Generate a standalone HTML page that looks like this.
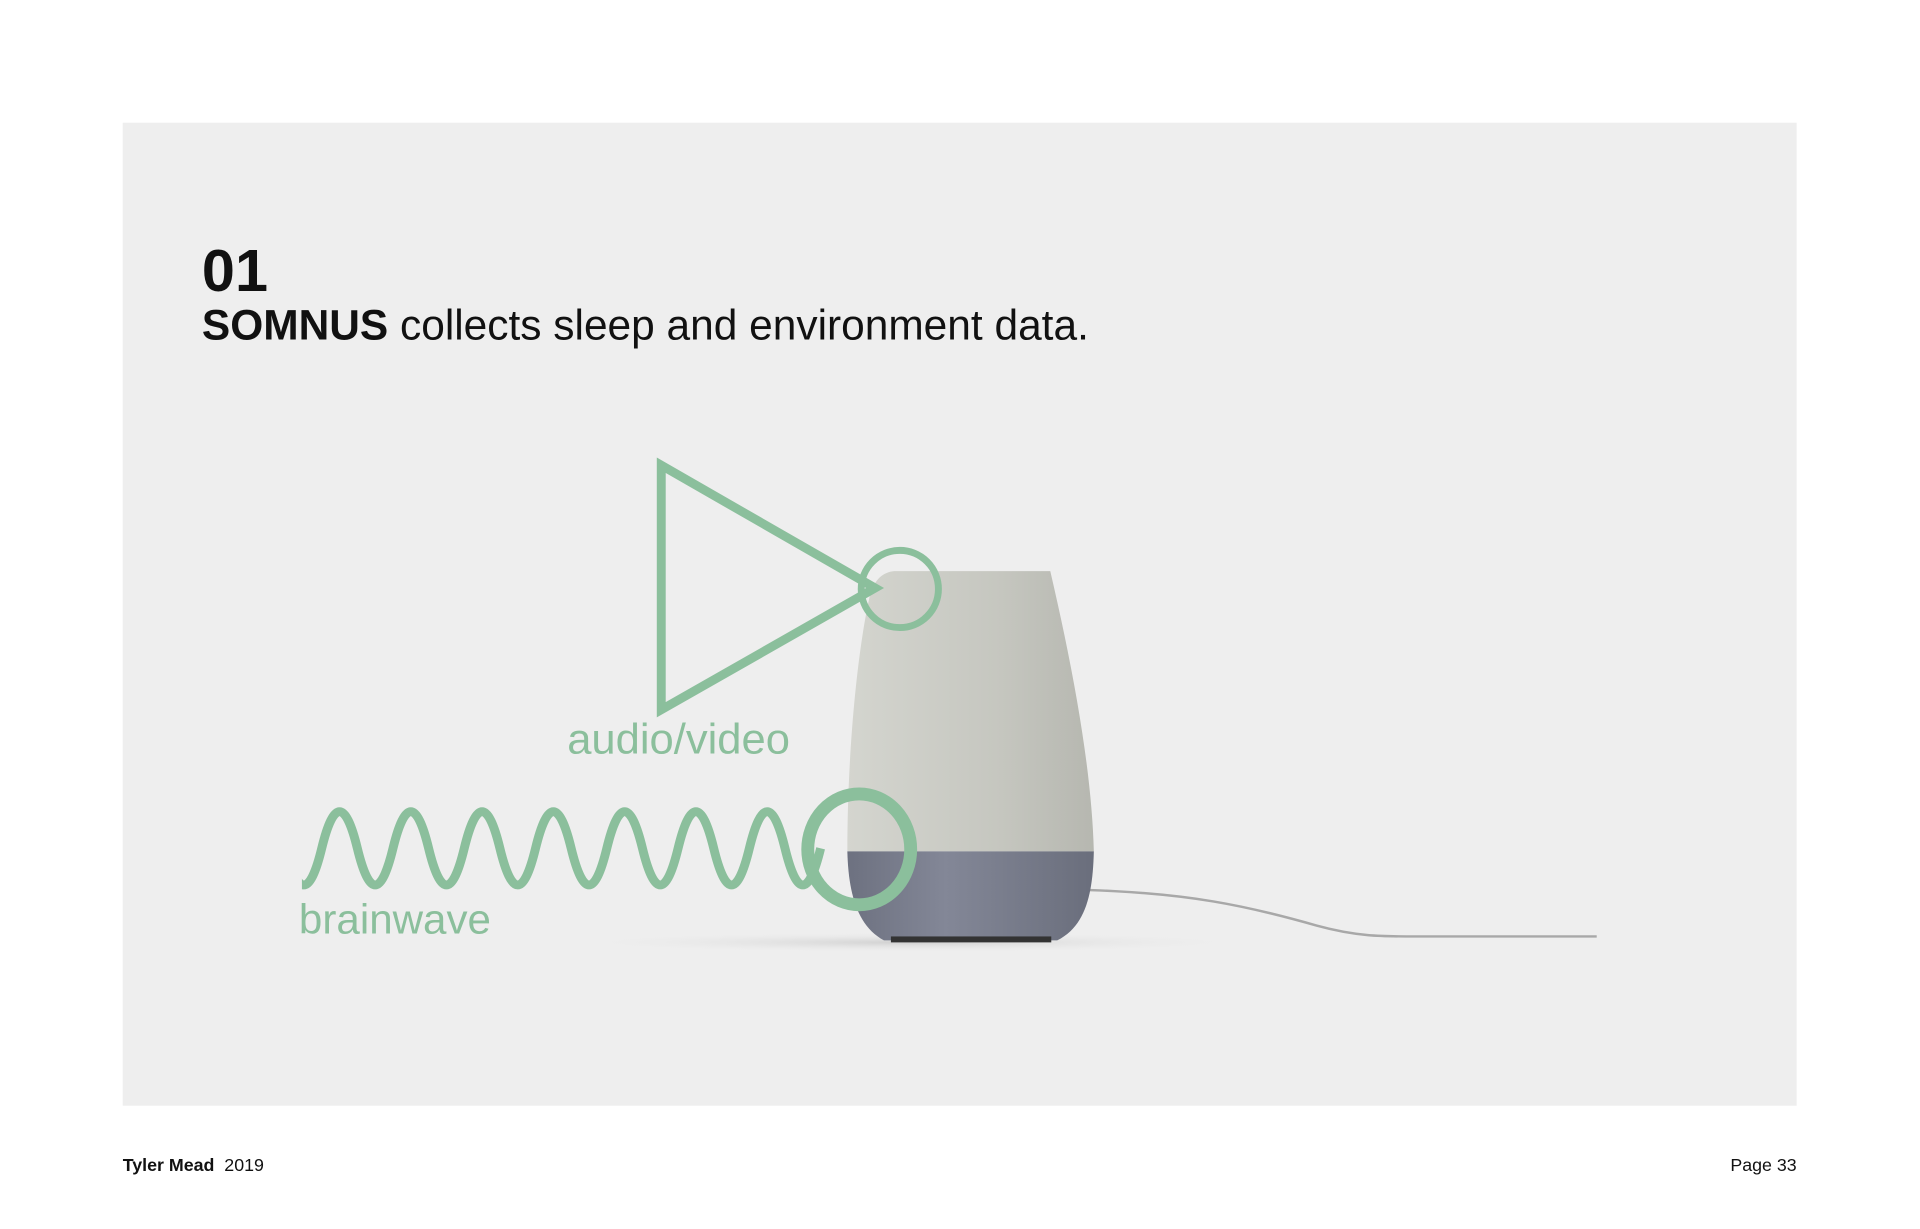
<!DOCTYPE html>
<html><head><meta charset="utf-8"><style>
html,body{margin:0;padding:0;background:#fff;width:1920px;height:1229px;overflow:hidden}
svg{display:block}
</style></head><body>
<svg width="1920" height="1229" viewBox="0 0 1920 1229" xmlns="http://www.w3.org/2000/svg">
<defs>
<linearGradient id="body" x1="0" x2="1" y1="0" y2="0">
<stop offset="0" stop-color="#d4d5cf"/><stop offset="0.6" stop-color="#c6c7c0"/><stop offset="1" stop-color="#b6b7b0"/>
</linearGradient>
<linearGradient id="base" x1="0" x2="1" y1="0" y2="0">
<stop offset="0" stop-color="#6d7180"/><stop offset="0.4" stop-color="#838797"/><stop offset="1" stop-color="#6a6e7c"/>
</linearGradient>
<radialGradient id="sh" cx="0.5" cy="0.5" r="0.5"><stop offset="0" stop-color="#d0d0d0"/><stop offset="1" stop-color="#ececec" stop-opacity="0"/></radialGradient>
<clipPath id="wc"><rect x="305" y="780" width="560" height="140"/></clipPath>
</defs>
<g transform="scale(0.9899)">
<rect x="124" y="124" width="1691" height="993" fill="#eeeeee"/>
<text x="204" y="294" font-family="Liberation Sans, sans-serif" font-weight="bold" font-size="60" fill="#111">01</text>
<text x="204" y="343" font-family="Liberation Sans, sans-serif" font-size="43" fill="#111" textLength="896" lengthAdjust="spacingAndGlyphs"><tspan font-weight="bold">SOMNUS</tspan> collects sleep and environment data.</text>
<ellipse cx="920" cy="952" rx="340" ry="10" fill="url(#sh)"/>
<path d="M1095,899 C1200,902 1260,915 1330,935 C1370,946 1395,946 1430,946 L1613,946" fill="none" stroke="#a8a8a8" stroke-width="2.5"/>
<path d="M905,577 L1061,577 C1085,680 1103,780 1105,860 L856,860 C856,760 866,660 878,605 C882,586 892,577 905,577 Z" fill="url(#body)"/>
<path d="M856,860 L1105,860 C1104,900 1098,935 1068,950 L893,950 C865,935 857,900 856,860 Z" fill="url(#base)"/>
<rect x="900" y="946" width="162" height="6" fill="#333"/>
<path d="M668,470 L668,717 L884,594 Z" fill="none" stroke="#8bbf9c" stroke-width="9" stroke-linejoin="miter"/>
<circle cx="909" cy="595" r="39" fill="none" stroke="#8bbf9c" stroke-width="7"/>
<path clip-path="url(#wc)" d="M289,857 q18,74 36,0 t36,0 t36,0 t36,0 t36,0 t36,0 t36,0 t36,0 t36,0 t36,0 t36,0 t36,0 t36,0 t36,0 t36,0" fill="none" stroke="#8bbf9c" stroke-width="9"/>
<ellipse cx="868" cy="858" rx="52" ry="56" fill="none" stroke="#8bbf9c" stroke-width="13"/>
<text x="573" y="761" font-family="Liberation Sans, sans-serif" font-size="43" fill="#8bbf9c" textLength="225" lengthAdjust="spacingAndGlyphs">audio/video</text>
<text x="302" y="943" font-family="Liberation Sans, sans-serif" font-size="42" fill="#8bbf9c" textLength="194" lengthAdjust="spacingAndGlyphs">brainwave</text>
<text x="124" y="1183" font-family="Liberation Sans, sans-serif" font-size="18" fill="#111"><tspan font-weight="bold">Tyler Mead</tspan><tspan dx="10">2019</tspan></text>
<text x="1815" y="1183" text-anchor="end" font-family="Liberation Sans, sans-serif" font-size="18" fill="#111">Page 33</text>
</g>
</svg>
</body></html>
